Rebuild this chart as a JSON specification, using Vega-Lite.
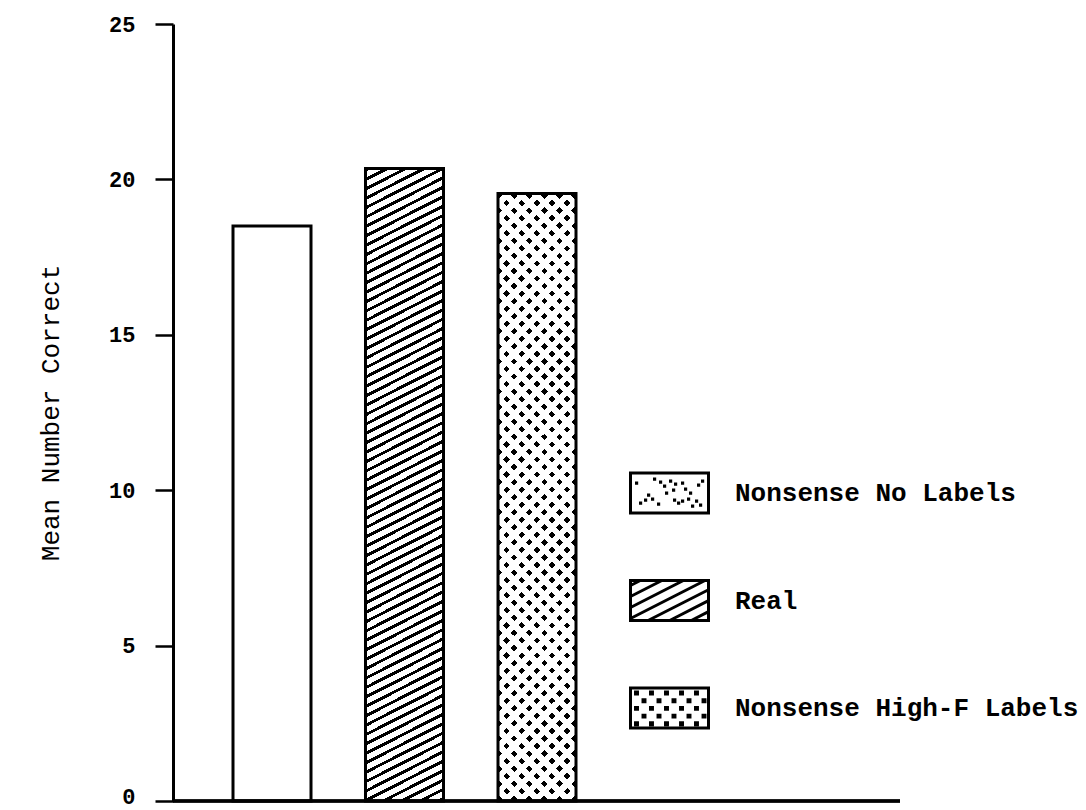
{
"$schema": "https://vega.github.io/schema/vega-lite/v6.json",
"autosize": {"type": "none"},
"padding": {"left": 173, "top": 24, "right": 186, "bottom": 9},
"width": 727,
"height": 777,
"background": "white",
"config": {"view": {"stroke": null}, "axis": {"grid": false}},
"data": {"values": [
{"cond": "Nonsense No Labels", "mean": 18.5},
{"cond": "Real", "mean": 20.35},
{"cond": "Nonsense High-F Labels", "mean": 19.55}
]},
"layer": [
{
"encoding": {
"x": {"field": "cond", "type": "nominal", "sort": null,
"scale": {"domain": ["Nonsense No Labels", "Real", "Nonsense High-F Labels"], "range": [60, 403], "paddingInner": 0.4113, "paddingOuter": 0},
"axis": null},
"y": {"field": "mean", "type": "quantitative",
"scale": {"domain": [0, 25], "nice": false},
"axis": {"values": [0, 5, 10, 15, 20, 25], "title": "Mean Number Correct", "domainColor": "black", "domainWidth": 3, "tickColor": "black", "tickWidth": 2.5, "tickSize": 18, "labelFont": "Liberation Mono", "labelFontSize": 22, "labelFontWeight": "bold", "labelColor": "black", "labelPadding": 20, "labelOffset": {"condition": {"test": "datum.value === 0", "value": -5}, "value": 0}, "labelFlush": false, "labelOverlap": false, "titleFont": "Liberation Mono", "titleFontSize": 26, "titleFontWeight": "normal", "titleColor": "black", "titlePadding": 45}}
},
"layer": [
{"mark": {"type": "bar"},
"encoding": {"fill": {"field": "cond", "type": "nominal",
"scale": {"domain": ["Nonsense No Labels", "Real", "Nonsense High-F Labels"], "range": ["white", "white", "white"]},
"legend": {"title": null, "orient": "none", "legendX": 456, "legendY": 428.5, "padding": 0, "symbolSize": 6084, "symbolStrokeWidth": 3, "labelOffset": 25, "rowPadding": 40.5, "labelFont": "Liberation Mono", "labelFontSize": 26, "labelFontWeight": "bold", "labelColor": "black", "labelLimit": 450,
"encode": {"symbols": {"update": {
"shape": {"signal": "datum.value === 'Real' ? 'M-1,-0.513H1V0.513H-1ZM-1,-0.385L-0.749,-0.513M-1,-0.103L-0.195,-0.513M-1,0.179L0.356,-0.513M-1,0.462L0.91,-0.513M-0.549,0.513L1,-0.276M0.005,0.513L1,0.005M0.559,0.513L1,0.287' : datum.value === 'Nonsense High-F Labels' ? 'M-1,-0.513H1V0.513H-1ZM-0.871,-0.41h.05v.05h-.05ZM-0.487,-0.41h.05v.05h-.05ZM-0.102,-0.41h.05v.05h-.05ZM0.283,-0.41h.05v.05h-.05ZM0.667,-0.41h.05v.05h-.05ZM-0.679,-0.212h.05v.05h-.05ZM-0.294,-0.212h.05v.05h-.05ZM0.09,-0.212h.05v.05h-.05ZM0.475,-0.212h.05v.05h-.05ZM0.86,-0.212h.05v.05h-.05ZM-0.871,-0.015h.05v.05h-.05ZM-0.487,-0.015h.05v.05h-.05ZM-0.102,-0.015h.05v.05h-.05ZM0.283,-0.015h.05v.05h-.05ZM0.667,-0.015h.05v.05h-.05ZM-0.679,0.183h.05v.05h-.05ZM-0.294,0.183h.05v.05h-.05ZM0.09,0.183h.05v.05h-.05ZM0.475,0.183h.05v.05h-.05ZM0.86,0.183h.05v.05h-.05ZM-0.871,0.38h.05v.05h-.05ZM-0.487,0.38h.05v.05h-.05ZM-0.102,0.38h.05v.05h-.05ZM0.283,0.38h.05v.05h-.05ZM0.667,0.38h.05v.05h-.05Z' : 'M-1,-0.513H1V0.513H-1ZM-0.846,-0.256h.005v.005h-.005ZM-0.385,-0.359h.005v.005h-.005ZM-0.231,-0.282h.005v.005h-.005ZM-0.128,-0.179h.005v.005h-.005ZM0.026,-0.308h.005v.005h-.005ZM0.154,-0.231h.005v.005h-.005ZM0.103,-0.077h.005v.005h-.005ZM0.333,-0.256h.005v.005h-.005ZM0.41,-0.103h.005v.005h-.005ZM0.538,0h.005v.005h-.005ZM0.744,-0.205h.005v.005h-.005ZM0.846,-0.308h.005v.005h-.005ZM-0.538,0.051h.005v.005h-.005ZM-0.615,0.179h.005v.005h-.005ZM-0.436,0.154h.005v.005h-.005ZM-0.282,0.282h.005v.005h-.005ZM0.128,0.179h.005v.005h-.005ZM0.231,0.256h.005v.005h-.005ZM0.333,0.205h.005v.005h-.005ZM0.487,0.154h.005v.005h-.005ZM0.59,0.333h.005v.005h-.005ZM0.795,0.308h.005v.005h-.005ZM0.692,0.205h.005v.005h-.005ZM-0.744,0.256h.005v.005h-.005ZM-0.077,0h.005v.005h-.005Z'"},
"fill": {"value": "white"}, "stroke": {"value": "black"}, "strokeWidth": {"value": 3}, "opacity": {"value": 1}}}}}}}},
{"transform": [{"filter": "datum.cond === 'Real'"}],
"mark": {"type": "bar", "fill": {"gradient": "linear", "x1": 0, "y1": 0, "x2": 0.0664, "y2": 1.0585, "stops": [
{"offset":0,"color":"#000"},{"offset":0.005,"color":"#000"},{"offset":0.005,"color":"#fff"},{"offset":0.014,"color":"#fff"},
{"offset":0.014,"color":"#000"},{"offset":0.019,"color":"#000"},{"offset":0.019,"color":"#fff"},{"offset":0.028,"color":"#fff"},
{"offset":0.028,"color":"#000"},{"offset":0.033,"color":"#000"},{"offset":0.033,"color":"#fff"},{"offset":0.042,"color":"#fff"},
{"offset":0.042,"color":"#000"},{"offset":0.047,"color":"#000"},{"offset":0.047,"color":"#fff"},{"offset":0.056,"color":"#fff"},
{"offset":0.056,"color":"#000"},{"offset":0.061,"color":"#000"},{"offset":0.061,"color":"#fff"},{"offset":0.07,"color":"#fff"},
{"offset":0.07,"color":"#000"},{"offset":0.075,"color":"#000"},{"offset":0.075,"color":"#fff"},{"offset":0.084,"color":"#fff"},
{"offset":0.084,"color":"#000"},{"offset":0.089,"color":"#000"},{"offset":0.089,"color":"#fff"},{"offset":0.098,"color":"#fff"},
{"offset":0.098,"color":"#000"},{"offset":0.103,"color":"#000"},{"offset":0.103,"color":"#fff"},{"offset":0.112,"color":"#fff"},
{"offset":0.112,"color":"#000"},{"offset":0.117,"color":"#000"},{"offset":0.117,"color":"#fff"},{"offset":0.126,"color":"#fff"},
{"offset":0.126,"color":"#000"},{"offset":0.131,"color":"#000"},{"offset":0.131,"color":"#fff"},{"offset":0.14,"color":"#fff"},
{"offset":0.14,"color":"#000"},{"offset":0.145,"color":"#000"},{"offset":0.145,"color":"#fff"},{"offset":0.154,"color":"#fff"},
{"offset":0.154,"color":"#000"},{"offset":0.159,"color":"#000"},{"offset":0.159,"color":"#fff"},{"offset":0.168,"color":"#fff"},
{"offset":0.168,"color":"#000"},{"offset":0.173,"color":"#000"},{"offset":0.173,"color":"#fff"},{"offset":0.182,"color":"#fff"},
{"offset":0.182,"color":"#000"},{"offset":0.187,"color":"#000"},{"offset":0.187,"color":"#fff"},{"offset":0.196,"color":"#fff"},
{"offset":0.196,"color":"#000"},{"offset":0.201,"color":"#000"},{"offset":0.201,"color":"#fff"},{"offset":0.21,"color":"#fff"},
{"offset":0.21,"color":"#000"},{"offset":0.215,"color":"#000"},{"offset":0.215,"color":"#fff"},{"offset":0.224,"color":"#fff"},
{"offset":0.224,"color":"#000"},{"offset":0.229,"color":"#000"},{"offset":0.229,"color":"#fff"},{"offset":0.238,"color":"#fff"},
{"offset":0.238,"color":"#000"},{"offset":0.243,"color":"#000"},{"offset":0.243,"color":"#fff"},{"offset":0.252,"color":"#fff"},
{"offset":0.252,"color":"#000"},{"offset":0.257,"color":"#000"},{"offset":0.257,"color":"#fff"},{"offset":0.266,"color":"#fff"},
{"offset":0.266,"color":"#000"},{"offset":0.271,"color":"#000"},{"offset":0.271,"color":"#fff"},{"offset":0.28,"color":"#fff"},
{"offset":0.28,"color":"#000"},{"offset":0.285,"color":"#000"},{"offset":0.285,"color":"#fff"},{"offset":0.294,"color":"#fff"},
{"offset":0.294,"color":"#000"},{"offset":0.299,"color":"#000"},{"offset":0.299,"color":"#fff"},{"offset":0.308,"color":"#fff"},
{"offset":0.308,"color":"#000"},{"offset":0.313,"color":"#000"},{"offset":0.313,"color":"#fff"},{"offset":0.322,"color":"#fff"},
{"offset":0.322,"color":"#000"},{"offset":0.327,"color":"#000"},{"offset":0.327,"color":"#fff"},{"offset":0.336,"color":"#fff"},
{"offset":0.336,"color":"#000"},{"offset":0.341,"color":"#000"},{"offset":0.341,"color":"#fff"},{"offset":0.35,"color":"#fff"},
{"offset":0.35,"color":"#000"},{"offset":0.355,"color":"#000"},{"offset":0.355,"color":"#fff"},{"offset":0.364,"color":"#fff"},
{"offset":0.364,"color":"#000"},{"offset":0.369,"color":"#000"},{"offset":0.369,"color":"#fff"},{"offset":0.378,"color":"#fff"},
{"offset":0.378,"color":"#000"},{"offset":0.383,"color":"#000"},{"offset":0.383,"color":"#fff"},{"offset":0.392,"color":"#fff"},
{"offset":0.392,"color":"#000"},{"offset":0.397,"color":"#000"},{"offset":0.397,"color":"#fff"},{"offset":0.406,"color":"#fff"},
{"offset":0.406,"color":"#000"},{"offset":0.411,"color":"#000"},{"offset":0.411,"color":"#fff"},{"offset":0.42,"color":"#fff"},
{"offset":0.42,"color":"#000"},{"offset":0.425,"color":"#000"},{"offset":0.425,"color":"#fff"},{"offset":0.434,"color":"#fff"},
{"offset":0.434,"color":"#000"},{"offset":0.439,"color":"#000"},{"offset":0.439,"color":"#fff"},{"offset":0.448,"color":"#fff"},
{"offset":0.448,"color":"#000"},{"offset":0.453,"color":"#000"},{"offset":0.453,"color":"#fff"},{"offset":0.462,"color":"#fff"},
{"offset":0.462,"color":"#000"},{"offset":0.467,"color":"#000"},{"offset":0.467,"color":"#fff"},{"offset":0.476,"color":"#fff"},
{"offset":0.476,"color":"#000"},{"offset":0.481,"color":"#000"},{"offset":0.481,"color":"#fff"},{"offset":0.49,"color":"#fff"},
{"offset":0.49,"color":"#000"},{"offset":0.495,"color":"#000"},{"offset":0.495,"color":"#fff"},{"offset":0.504,"color":"#fff"},
{"offset":0.504,"color":"#000"},{"offset":0.509,"color":"#000"},{"offset":0.509,"color":"#fff"},{"offset":0.518,"color":"#fff"},
{"offset":0.518,"color":"#000"},{"offset":0.523,"color":"#000"},{"offset":0.523,"color":"#fff"},{"offset":0.532,"color":"#fff"},
{"offset":0.532,"color":"#000"},{"offset":0.537,"color":"#000"},{"offset":0.537,"color":"#fff"},{"offset":0.546,"color":"#fff"},
{"offset":0.546,"color":"#000"},{"offset":0.551,"color":"#000"},{"offset":0.551,"color":"#fff"},{"offset":0.56,"color":"#fff"},
{"offset":0.56,"color":"#000"},{"offset":0.565,"color":"#000"},{"offset":0.565,"color":"#fff"},{"offset":0.574,"color":"#fff"},
{"offset":0.574,"color":"#000"},{"offset":0.579,"color":"#000"},{"offset":0.579,"color":"#fff"},{"offset":0.588,"color":"#fff"},
{"offset":0.588,"color":"#000"},{"offset":0.593,"color":"#000"},{"offset":0.593,"color":"#fff"},{"offset":0.602,"color":"#fff"},
{"offset":0.602,"color":"#000"},{"offset":0.607,"color":"#000"},{"offset":0.607,"color":"#fff"},{"offset":0.616,"color":"#fff"},
{"offset":0.616,"color":"#000"},{"offset":0.621,"color":"#000"},{"offset":0.621,"color":"#fff"},{"offset":0.63,"color":"#fff"},
{"offset":0.63,"color":"#000"},{"offset":0.635,"color":"#000"},{"offset":0.635,"color":"#fff"},{"offset":0.644,"color":"#fff"},
{"offset":0.644,"color":"#000"},{"offset":0.649,"color":"#000"},{"offset":0.649,"color":"#fff"},{"offset":0.658,"color":"#fff"},
{"offset":0.658,"color":"#000"},{"offset":0.663,"color":"#000"},{"offset":0.663,"color":"#fff"},{"offset":0.672,"color":"#fff"},
{"offset":0.672,"color":"#000"},{"offset":0.677,"color":"#000"},{"offset":0.677,"color":"#fff"},{"offset":0.686,"color":"#fff"},
{"offset":0.686,"color":"#000"},{"offset":0.691,"color":"#000"},{"offset":0.691,"color":"#fff"},{"offset":0.7,"color":"#fff"},
{"offset":0.7,"color":"#000"},{"offset":0.705,"color":"#000"},{"offset":0.705,"color":"#fff"},{"offset":0.714,"color":"#fff"},
{"offset":0.714,"color":"#000"},{"offset":0.719,"color":"#000"},{"offset":0.719,"color":"#fff"},{"offset":0.728,"color":"#fff"},
{"offset":0.728,"color":"#000"},{"offset":0.733,"color":"#000"},{"offset":0.733,"color":"#fff"},{"offset":0.742,"color":"#fff"},
{"offset":0.742,"color":"#000"},{"offset":0.747,"color":"#000"},{"offset":0.747,"color":"#fff"},{"offset":0.756,"color":"#fff"},
{"offset":0.756,"color":"#000"},{"offset":0.761,"color":"#000"},{"offset":0.761,"color":"#fff"},{"offset":0.77,"color":"#fff"},
{"offset":0.77,"color":"#000"},{"offset":0.775,"color":"#000"},{"offset":0.775,"color":"#fff"},{"offset":0.784,"color":"#fff"},
{"offset":0.784,"color":"#000"},{"offset":0.789,"color":"#000"},{"offset":0.789,"color":"#fff"},{"offset":0.798,"color":"#fff"},
{"offset":0.798,"color":"#000"},{"offset":0.803,"color":"#000"},{"offset":0.803,"color":"#fff"},{"offset":0.812,"color":"#fff"},
{"offset":0.812,"color":"#000"},{"offset":0.817,"color":"#000"},{"offset":0.817,"color":"#fff"},{"offset":0.826,"color":"#fff"},
{"offset":0.826,"color":"#000"},{"offset":0.831,"color":"#000"},{"offset":0.831,"color":"#fff"},{"offset":0.84,"color":"#fff"},
{"offset":0.84,"color":"#000"},{"offset":0.845,"color":"#000"},{"offset":0.845,"color":"#fff"},{"offset":0.854,"color":"#fff"},
{"offset":0.854,"color":"#000"},{"offset":0.859,"color":"#000"},{"offset":0.859,"color":"#fff"},{"offset":0.868,"color":"#fff"},
{"offset":0.868,"color":"#000"},{"offset":0.873,"color":"#000"},{"offset":0.873,"color":"#fff"},{"offset":0.882,"color":"#fff"},
{"offset":0.882,"color":"#000"},{"offset":0.887,"color":"#000"},{"offset":0.887,"color":"#fff"},{"offset":0.896,"color":"#fff"},
{"offset":0.896,"color":"#000"},{"offset":0.901,"color":"#000"},{"offset":0.901,"color":"#fff"},{"offset":0.91,"color":"#fff"},
{"offset":0.91,"color":"#000"},{"offset":0.915,"color":"#000"},{"offset":0.915,"color":"#fff"},{"offset":0.924,"color":"#fff"},
{"offset":0.924,"color":"#000"},{"offset":0.929,"color":"#000"},{"offset":0.929,"color":"#fff"},{"offset":0.938,"color":"#fff"},
{"offset":0.938,"color":"#000"},{"offset":0.943,"color":"#000"},{"offset":0.943,"color":"#fff"},{"offset":0.952,"color":"#fff"},
{"offset":0.952,"color":"#000"},{"offset":0.957,"color":"#000"},{"offset":0.957,"color":"#fff"},{"offset":0.966,"color":"#fff"},
{"offset":0.966,"color":"#000"},{"offset":0.971,"color":"#000"},{"offset":0.971,"color":"#fff"},{"offset":0.98,"color":"#fff"},
{"offset":0.98,"color":"#000"},{"offset":0.985,"color":"#000"},{"offset":0.985,"color":"#fff"},{"offset":0.994,"color":"#fff"},
{"offset":0.994,"color":"#000"},{"offset":0.999,"color":"#000"},{"offset":0.999,"color":"#fff"},{"offset":1,"color":"#fff"}
]}}},
{"transform": [{"filter": "datum.cond === 'Nonsense High-F Labels'"}],
"mark": {"type": "bar", "fill": {"gradient": "linear", "x1": 0, "y1": 0, "x2": 0.1423, "y2": 1.11, "stops": [
{"offset":0,"color":"#000"},{"offset":0.0095,"color":"#000"},{"offset":0.0095,"color":"#fff"},{"offset":0.022,"color":"#fff"},
{"offset":0.022,"color":"#000"},{"offset":0.0315,"color":"#000"},{"offset":0.0315,"color":"#fff"},{"offset":0.044,"color":"#fff"},
{"offset":0.044,"color":"#000"},{"offset":0.0535,"color":"#000"},{"offset":0.0535,"color":"#fff"},{"offset":0.066,"color":"#fff"},
{"offset":0.066,"color":"#000"},{"offset":0.0755,"color":"#000"},{"offset":0.0755,"color":"#fff"},{"offset":0.088,"color":"#fff"},
{"offset":0.088,"color":"#000"},{"offset":0.0975,"color":"#000"},{"offset":0.0975,"color":"#fff"},{"offset":0.11,"color":"#fff"},
{"offset":0.11,"color":"#000"},{"offset":0.1195,"color":"#000"},{"offset":0.1195,"color":"#fff"},{"offset":0.132,"color":"#fff"},
{"offset":0.132,"color":"#000"},{"offset":0.1415,"color":"#000"},{"offset":0.1415,"color":"#fff"},{"offset":0.154,"color":"#fff"},
{"offset":0.154,"color":"#000"},{"offset":0.1635,"color":"#000"},{"offset":0.1635,"color":"#fff"},{"offset":0.176,"color":"#fff"},
{"offset":0.176,"color":"#000"},{"offset":0.1855,"color":"#000"},{"offset":0.1855,"color":"#fff"},{"offset":0.198,"color":"#fff"},
{"offset":0.198,"color":"#000"},{"offset":0.2075,"color":"#000"},{"offset":0.2075,"color":"#fff"},{"offset":0.22,"color":"#fff"},
{"offset":0.22,"color":"#000"},{"offset":0.2295,"color":"#000"},{"offset":0.2295,"color":"#fff"},{"offset":0.242,"color":"#fff"},
{"offset":0.242,"color":"#000"},{"offset":0.2515,"color":"#000"},{"offset":0.2515,"color":"#fff"},{"offset":0.264,"color":"#fff"},
{"offset":0.264,"color":"#000"},{"offset":0.2735,"color":"#000"},{"offset":0.2735,"color":"#fff"},{"offset":0.286,"color":"#fff"},
{"offset":0.286,"color":"#000"},{"offset":0.2955,"color":"#000"},{"offset":0.2955,"color":"#fff"},{"offset":0.308,"color":"#fff"},
{"offset":0.308,"color":"#000"},{"offset":0.3175,"color":"#000"},{"offset":0.3175,"color":"#fff"},{"offset":0.33,"color":"#fff"},
{"offset":0.33,"color":"#000"},{"offset":0.3395,"color":"#000"},{"offset":0.3395,"color":"#fff"},{"offset":0.352,"color":"#fff"},
{"offset":0.352,"color":"#000"},{"offset":0.3615,"color":"#000"},{"offset":0.3615,"color":"#fff"},{"offset":0.374,"color":"#fff"},
{"offset":0.374,"color":"#000"},{"offset":0.3835,"color":"#000"},{"offset":0.3835,"color":"#fff"},{"offset":0.396,"color":"#fff"},
{"offset":0.396,"color":"#000"},{"offset":0.4055,"color":"#000"},{"offset":0.4055,"color":"#fff"},{"offset":0.418,"color":"#fff"},
{"offset":0.418,"color":"#000"},{"offset":0.4275,"color":"#000"},{"offset":0.4275,"color":"#fff"},{"offset":0.44,"color":"#fff"},
{"offset":0.44,"color":"#000"},{"offset":0.4495,"color":"#000"},{"offset":0.4495,"color":"#fff"},{"offset":0.462,"color":"#fff"},
{"offset":0.462,"color":"#000"},{"offset":0.4715,"color":"#000"},{"offset":0.4715,"color":"#fff"},{"offset":0.484,"color":"#fff"},
{"offset":0.484,"color":"#000"},{"offset":0.4935,"color":"#000"},{"offset":0.4935,"color":"#fff"},{"offset":0.506,"color":"#fff"},
{"offset":0.506,"color":"#000"},{"offset":0.5155,"color":"#000"},{"offset":0.5155,"color":"#fff"},{"offset":0.528,"color":"#fff"},
{"offset":0.528,"color":"#000"},{"offset":0.5375,"color":"#000"},{"offset":0.5375,"color":"#fff"},{"offset":0.55,"color":"#fff"},
{"offset":0.55,"color":"#000"},{"offset":0.5595,"color":"#000"},{"offset":0.5595,"color":"#fff"},{"offset":0.572,"color":"#fff"},
{"offset":0.572,"color":"#000"},{"offset":0.5815,"color":"#000"},{"offset":0.5815,"color":"#fff"},{"offset":0.594,"color":"#fff"},
{"offset":0.594,"color":"#000"},{"offset":0.6035,"color":"#000"},{"offset":0.6035,"color":"#fff"},{"offset":0.616,"color":"#fff"},
{"offset":0.616,"color":"#000"},{"offset":0.6255,"color":"#000"},{"offset":0.6255,"color":"#fff"},{"offset":0.638,"color":"#fff"},
{"offset":0.638,"color":"#000"},{"offset":0.6475,"color":"#000"},{"offset":0.6475,"color":"#fff"},{"offset":0.66,"color":"#fff"},
{"offset":0.66,"color":"#000"},{"offset":0.6695,"color":"#000"},{"offset":0.6695,"color":"#fff"},{"offset":0.682,"color":"#fff"},
{"offset":0.682,"color":"#000"},{"offset":0.6915,"color":"#000"},{"offset":0.6915,"color":"#fff"},{"offset":0.704,"color":"#fff"},
{"offset":0.704,"color":"#000"},{"offset":0.7135,"color":"#000"},{"offset":0.7135,"color":"#fff"},{"offset":0.726,"color":"#fff"},
{"offset":0.726,"color":"#000"},{"offset":0.7355,"color":"#000"},{"offset":0.7355,"color":"#fff"},{"offset":0.748,"color":"#fff"},
{"offset":0.748,"color":"#000"},{"offset":0.7575,"color":"#000"},{"offset":0.7575,"color":"#fff"},{"offset":0.77,"color":"#fff"},
{"offset":0.77,"color":"#000"},{"offset":0.7795,"color":"#000"},{"offset":0.7795,"color":"#fff"},{"offset":0.792,"color":"#fff"},
{"offset":0.792,"color":"#000"},{"offset":0.8015,"color":"#000"},{"offset":0.8015,"color":"#fff"},{"offset":0.814,"color":"#fff"},
{"offset":0.814,"color":"#000"},{"offset":0.8235,"color":"#000"},{"offset":0.8235,"color":"#fff"},{"offset":0.836,"color":"#fff"},
{"offset":0.836,"color":"#000"},{"offset":0.8455,"color":"#000"},{"offset":0.8455,"color":"#fff"},{"offset":0.858,"color":"#fff"},
{"offset":0.858,"color":"#000"},{"offset":0.8675,"color":"#000"},{"offset":0.8675,"color":"#fff"},{"offset":0.88,"color":"#fff"},
{"offset":0.88,"color":"#000"},{"offset":0.8895,"color":"#000"},{"offset":0.8895,"color":"#fff"},{"offset":0.902,"color":"#fff"},
{"offset":0.902,"color":"#000"},{"offset":0.9115,"color":"#000"},{"offset":0.9115,"color":"#fff"},{"offset":0.924,"color":"#fff"},
{"offset":0.924,"color":"#000"},{"offset":0.9335,"color":"#000"},{"offset":0.9335,"color":"#fff"},{"offset":0.946,"color":"#fff"},
{"offset":0.946,"color":"#000"},{"offset":0.9555,"color":"#000"},{"offset":0.9555,"color":"#fff"},{"offset":0.968,"color":"#fff"},
{"offset":0.968,"color":"#000"},{"offset":0.9775,"color":"#000"},{"offset":0.9775,"color":"#fff"},{"offset":0.99,"color":"#fff"},
{"offset":0.99,"color":"#000"},{"offset":0.9995,"color":"#000"},{"offset":0.9995,"color":"#fff"},{"offset":1,"color":"#fff"}
]}}},
{"transform": [{"filter": "datum.cond === 'Nonsense High-F Labels'"}],
"mark": {"type": "bar", "fill": {"gradient": "linear", "x1": 0, "y1": 1, "x2": 0.1423, "y2": -0.11, "stops": [
{"offset":0,"color":"rgba(255,255,255,0)"},{"offset":0.0095,"color":"rgba(255,255,255,0)"},{"offset":0.0095,"color":"#fff"},{"offset":0.022,"color":"#fff"},
{"offset":0.022,"color":"rgba(255,255,255,0)"},{"offset":0.0315,"color":"rgba(255,255,255,0)"},{"offset":0.0315,"color":"#fff"},{"offset":0.044,"color":"#fff"},
{"offset":0.044,"color":"rgba(255,255,255,0)"},{"offset":0.0535,"color":"rgba(255,255,255,0)"},{"offset":0.0535,"color":"#fff"},{"offset":0.066,"color":"#fff"},
{"offset":0.066,"color":"rgba(255,255,255,0)"},{"offset":0.0755,"color":"rgba(255,255,255,0)"},{"offset":0.0755,"color":"#fff"},{"offset":0.088,"color":"#fff"},
{"offset":0.088,"color":"rgba(255,255,255,0)"},{"offset":0.0975,"color":"rgba(255,255,255,0)"},{"offset":0.0975,"color":"#fff"},{"offset":0.11,"color":"#fff"},
{"offset":0.11,"color":"rgba(255,255,255,0)"},{"offset":0.1195,"color":"rgba(255,255,255,0)"},{"offset":0.1195,"color":"#fff"},{"offset":0.132,"color":"#fff"},
{"offset":0.132,"color":"rgba(255,255,255,0)"},{"offset":0.1415,"color":"rgba(255,255,255,0)"},{"offset":0.1415,"color":"#fff"},{"offset":0.154,"color":"#fff"},
{"offset":0.154,"color":"rgba(255,255,255,0)"},{"offset":0.1635,"color":"rgba(255,255,255,0)"},{"offset":0.1635,"color":"#fff"},{"offset":0.176,"color":"#fff"},
{"offset":0.176,"color":"rgba(255,255,255,0)"},{"offset":0.1855,"color":"rgba(255,255,255,0)"},{"offset":0.1855,"color":"#fff"},{"offset":0.198,"color":"#fff"},
{"offset":0.198,"color":"rgba(255,255,255,0)"},{"offset":0.2075,"color":"rgba(255,255,255,0)"},{"offset":0.2075,"color":"#fff"},{"offset":0.22,"color":"#fff"},
{"offset":0.22,"color":"rgba(255,255,255,0)"},{"offset":0.2295,"color":"rgba(255,255,255,0)"},{"offset":0.2295,"color":"#fff"},{"offset":0.242,"color":"#fff"},
{"offset":0.242,"color":"rgba(255,255,255,0)"},{"offset":0.2515,"color":"rgba(255,255,255,0)"},{"offset":0.2515,"color":"#fff"},{"offset":0.264,"color":"#fff"},
{"offset":0.264,"color":"rgba(255,255,255,0)"},{"offset":0.2735,"color":"rgba(255,255,255,0)"},{"offset":0.2735,"color":"#fff"},{"offset":0.286,"color":"#fff"},
{"offset":0.286,"color":"rgba(255,255,255,0)"},{"offset":0.2955,"color":"rgba(255,255,255,0)"},{"offset":0.2955,"color":"#fff"},{"offset":0.308,"color":"#fff"},
{"offset":0.308,"color":"rgba(255,255,255,0)"},{"offset":0.3175,"color":"rgba(255,255,255,0)"},{"offset":0.3175,"color":"#fff"},{"offset":0.33,"color":"#fff"},
{"offset":0.33,"color":"rgba(255,255,255,0)"},{"offset":0.3395,"color":"rgba(255,255,255,0)"},{"offset":0.3395,"color":"#fff"},{"offset":0.352,"color":"#fff"},
{"offset":0.352,"color":"rgba(255,255,255,0)"},{"offset":0.3615,"color":"rgba(255,255,255,0)"},{"offset":0.3615,"color":"#fff"},{"offset":0.374,"color":"#fff"},
{"offset":0.374,"color":"rgba(255,255,255,0)"},{"offset":0.3835,"color":"rgba(255,255,255,0)"},{"offset":0.3835,"color":"#fff"},{"offset":0.396,"color":"#fff"},
{"offset":0.396,"color":"rgba(255,255,255,0)"},{"offset":0.4055,"color":"rgba(255,255,255,0)"},{"offset":0.4055,"color":"#fff"},{"offset":0.418,"color":"#fff"},
{"offset":0.418,"color":"rgba(255,255,255,0)"},{"offset":0.4275,"color":"rgba(255,255,255,0)"},{"offset":0.4275,"color":"#fff"},{"offset":0.44,"color":"#fff"},
{"offset":0.44,"color":"rgba(255,255,255,0)"},{"offset":0.4495,"color":"rgba(255,255,255,0)"},{"offset":0.4495,"color":"#fff"},{"offset":0.462,"color":"#fff"},
{"offset":0.462,"color":"rgba(255,255,255,0)"},{"offset":0.4715,"color":"rgba(255,255,255,0)"},{"offset":0.4715,"color":"#fff"},{"offset":0.484,"color":"#fff"},
{"offset":0.484,"color":"rgba(255,255,255,0)"},{"offset":0.4935,"color":"rgba(255,255,255,0)"},{"offset":0.4935,"color":"#fff"},{"offset":0.506,"color":"#fff"},
{"offset":0.506,"color":"rgba(255,255,255,0)"},{"offset":0.5155,"color":"rgba(255,255,255,0)"},{"offset":0.5155,"color":"#fff"},{"offset":0.528,"color":"#fff"},
{"offset":0.528,"color":"rgba(255,255,255,0)"},{"offset":0.5375,"color":"rgba(255,255,255,0)"},{"offset":0.5375,"color":"#fff"},{"offset":0.55,"color":"#fff"},
{"offset":0.55,"color":"rgba(255,255,255,0)"},{"offset":0.5595,"color":"rgba(255,255,255,0)"},{"offset":0.5595,"color":"#fff"},{"offset":0.572,"color":"#fff"},
{"offset":0.572,"color":"rgba(255,255,255,0)"},{"offset":0.5815,"color":"rgba(255,255,255,0)"},{"offset":0.5815,"color":"#fff"},{"offset":0.594,"color":"#fff"},
{"offset":0.594,"color":"rgba(255,255,255,0)"},{"offset":0.6035,"color":"rgba(255,255,255,0)"},{"offset":0.6035,"color":"#fff"},{"offset":0.616,"color":"#fff"},
{"offset":0.616,"color":"rgba(255,255,255,0)"},{"offset":0.6255,"color":"rgba(255,255,255,0)"},{"offset":0.6255,"color":"#fff"},{"offset":0.638,"color":"#fff"},
{"offset":0.638,"color":"rgba(255,255,255,0)"},{"offset":0.6475,"color":"rgba(255,255,255,0)"},{"offset":0.6475,"color":"#fff"},{"offset":0.66,"color":"#fff"},
{"offset":0.66,"color":"rgba(255,255,255,0)"},{"offset":0.6695,"color":"rgba(255,255,255,0)"},{"offset":0.6695,"color":"#fff"},{"offset":0.682,"color":"#fff"},
{"offset":0.682,"color":"rgba(255,255,255,0)"},{"offset":0.6915,"color":"rgba(255,255,255,0)"},{"offset":0.6915,"color":"#fff"},{"offset":0.704,"color":"#fff"},
{"offset":0.704,"color":"rgba(255,255,255,0)"},{"offset":0.7135,"color":"rgba(255,255,255,0)"},{"offset":0.7135,"color":"#fff"},{"offset":0.726,"color":"#fff"},
{"offset":0.726,"color":"rgba(255,255,255,0)"},{"offset":0.7355,"color":"rgba(255,255,255,0)"},{"offset":0.7355,"color":"#fff"},{"offset":0.748,"color":"#fff"},
{"offset":0.748,"color":"rgba(255,255,255,0)"},{"offset":0.7575,"color":"rgba(255,255,255,0)"},{"offset":0.7575,"color":"#fff"},{"offset":0.77,"color":"#fff"},
{"offset":0.77,"color":"rgba(255,255,255,0)"},{"offset":0.7795,"color":"rgba(255,255,255,0)"},{"offset":0.7795,"color":"#fff"},{"offset":0.792,"color":"#fff"},
{"offset":0.792,"color":"rgba(255,255,255,0)"},{"offset":0.8015,"color":"rgba(255,255,255,0)"},{"offset":0.8015,"color":"#fff"},{"offset":0.814,"color":"#fff"},
{"offset":0.814,"color":"rgba(255,255,255,0)"},{"offset":0.8235,"color":"rgba(255,255,255,0)"},{"offset":0.8235,"color":"#fff"},{"offset":0.836,"color":"#fff"},
{"offset":0.836,"color":"rgba(255,255,255,0)"},{"offset":0.8455,"color":"rgba(255,255,255,0)"},{"offset":0.8455,"color":"#fff"},{"offset":0.858,"color":"#fff"},
{"offset":0.858,"color":"rgba(255,255,255,0)"},{"offset":0.8675,"color":"rgba(255,255,255,0)"},{"offset":0.8675,"color":"#fff"},{"offset":0.88,"color":"#fff"},
{"offset":0.88,"color":"rgba(255,255,255,0)"},{"offset":0.8895,"color":"rgba(255,255,255,0)"},{"offset":0.8895,"color":"#fff"},{"offset":0.902,"color":"#fff"},
{"offset":0.902,"color":"rgba(255,255,255,0)"},{"offset":0.9115,"color":"rgba(255,255,255,0)"},{"offset":0.9115,"color":"#fff"},{"offset":0.924,"color":"#fff"},
{"offset":0.924,"color":"rgba(255,255,255,0)"},{"offset":0.9335,"color":"rgba(255,255,255,0)"},{"offset":0.9335,"color":"#fff"},{"offset":0.946,"color":"#fff"},
{"offset":0.946,"color":"rgba(255,255,255,0)"},{"offset":0.9555,"color":"rgba(255,255,255,0)"},{"offset":0.9555,"color":"#fff"},{"offset":0.968,"color":"#fff"},
{"offset":0.968,"color":"rgba(255,255,255,0)"},{"offset":0.9775,"color":"rgba(255,255,255,0)"},{"offset":0.9775,"color":"#fff"},{"offset":0.99,"color":"#fff"},
{"offset":0.99,"color":"rgba(255,255,255,0)"},{"offset":0.9995,"color":"rgba(255,255,255,0)"},{"offset":0.9995,"color":"#fff"},{"offset":1,"color":"#fff"}
]}}},
{"mark": {"type": "bar", "fillOpacity": 0, "stroke": "black", "strokeWidth": 3}}
]
},
{"mark": {"type": "rule", "color": "black", "strokeWidth": 3},
"encoding": {"y": {"datum": 0}}}
]
}
